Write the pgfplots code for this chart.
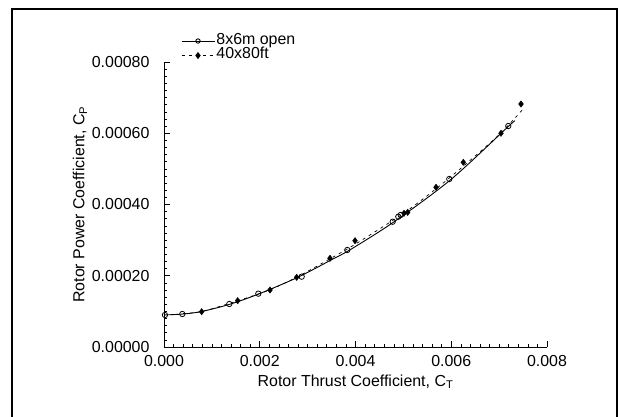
\documentclass[border=0pt]{standalone}
\usepackage{fontspec}
\setmainfont{Liberation Sans}
\usepackage{pgfplots}
\pgfplotsset{compat=1.18}
\begin{document}
\fontsize{16}{18}\selectfont
\begin{tikzpicture}
\useasboundingbox (-164bp,-70bp) rectangle (454bp,347bp);
\begin{axis}[
  at={(0,0)}, anchor=south west,
  scale only axis, width=383bp, height=285bp,
  xmin=0, xmax=0.008, ymin=0, ymax=0.0008,
  axis lines*=left,
  axis line style={line width=0.9pt},
  tick align=inside,
  major tick length=6bp, minor tick length=3bp,
  every tick/.style={black, line width=0.6pt},
  minor tick num=9,
  xtick={0,0.002,0.004,0.006,0.008},
  ytick={0,0.0002,0.0004,0.0006,0.0008},
  scaled ticks=false,
  /pgf/number format/assume math mode=true,
  xticklabel style={/pgf/number format/fixed, /pgf/number format/fixed zerofill, /pgf/number format/precision=3, yshift=-3bp},
  yticklabel style={/pgf/number format/fixed, /pgf/number format/fixed zerofill, /pgf/number format/precision=5, xshift=-9bp},
  tick label style={font=\fontsize{16}{18}\selectfont},
  label style={font=\fontsize{16}{18}\selectfont},
  xlabel={Rotor Thrust Coefficient, C\textsubscript{T}},
  ylabel={Rotor Power Coefficient, C\textsubscript{P}},
  xlabel style={yshift=3bp},
  ylabel style={yshift=-6bp},
  legend style={at={(axis description cs:0.044,1.098)}, anchor=north west,
    draw=none, fill=none, inner sep=0pt, row sep=1bp, column sep=1bp,
    nodes={inner sep=0.5pt, text height=9.5bp, text depth=3bp},
    font=\fontsize{16}{18}\selectfont},
  legend cell align=left,
  legend image code/.code={\draw[mark repeat=2,mark phase=2,#1] plot coordinates {(0bp,0bp)(16.5bp,0bp)(33bp,0bp)};},
]
% fitted curves
\addplot[black, line width=0.9pt, smooth, tension=0.5, forget plot] coordinates {
(0,0.000090)(0.0004,0.0000926)(0.0008,0.000100)(0.0014,0.000121)(0.002,0.000150)
(0.0028,0.000196)(0.0035,0.000245)(0.0039,0.000274)(0.0048,0.000351)
(0.006,0.000471)(0.0072,0.000620)(0.00732,0.000634)};
\addplot[black, line width=0.7pt, dash pattern=on 3bp off 4bp, smooth, tension=0.5, forget plot] coordinates {
(0.0004,0.000094)(0.0008,0.000100)(0.0015,0.000128)(0.0022,0.000160)(0.0028,0.000198)
(0.0035,0.000250)(0.004,0.000289)(0.005,0.000375)(0.0057,0.000446)
(0.0063,0.000513)(0.007,0.000596)(0.0075,0.000668)};
% data
\addplot[only marks, mark=o, mark size=2.7bp, mark options={line width=0.8pt, fill=white}, forget plot] coordinates {
(0.00002,0.0000898)(0.000383,0.0000926)(0.001364,0.0001207)(0.00197,0.0001497)
(0.002876,0.0001974)(0.003829,0.0002723)(0.004777,0.0003517)(0.004894,0.0003658)
(0.004944,0.0003706)(0.005959,0.0004716)(0.007192,0.0006204)};
\addplot[only marks, mark=diamond*, mark size=3.2bp, black, forget plot] coordinates {
(0.000787,0.0000991)(0.001539,0.000130)(0.002214,0.000160)(0.002771,0.0001956)
(0.003467,0.000249)(0.003990,0.0002984)(0.005013,0.0003753)(0.005090,0.000378)
(0.005682,0.0004483)(0.006252,0.0005185)(0.007039,0.0005999)(0.007457,0.0006821)};
\addlegendimage{black, line width=0.9pt, mark=o, mark size=2.2bp, mark options={solid, fill=white}}
\addlegendentry{8x6m open}
\addlegendimage{black, line width=0.7pt, dash pattern=on 3bp off 4bp, mark=diamond*, mark size=3bp, mark options={solid}}
\addlegendentry{40x80ft}
\end{axis}
\draw[line width=1.1pt] (-152bp,-80bp) -- (-152bp,338bp) -- (453bp,338bp) -- (453bp,-80bp);
\end{tikzpicture}
\end{document}
